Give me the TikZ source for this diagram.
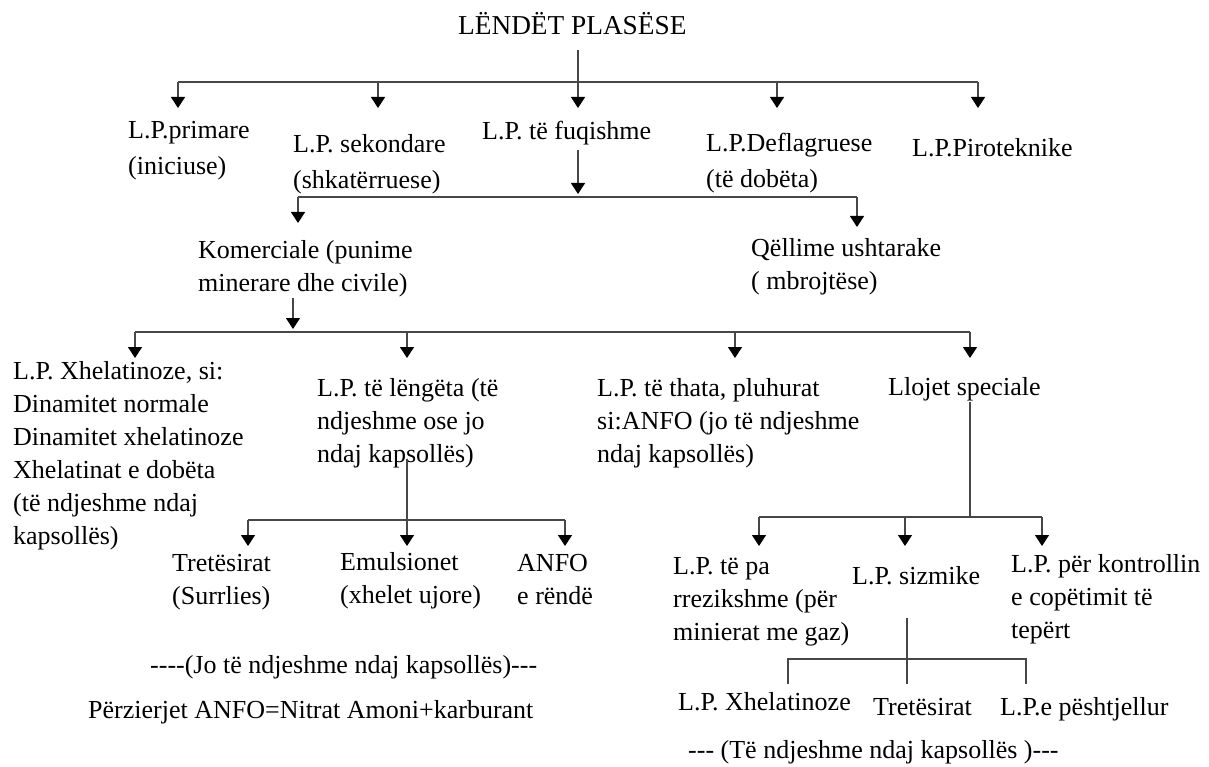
\documentclass[tikz,border=0pt]{standalone}
\usepackage{fontspec}
\setmainfont{Liberation Serif}
\usetikzlibrary{arrows.meta}
\newcommand\txfont{\fontsize{26}{33}\selectfont}
\newcommand\txwide{\fontsize{26}{36}\selectfont}
\newcommand\txtitle{\fontsize{27.3}{33}\selectfont}
\tikzset{
  txt/.style={anchor=north west, inner sep=0pt, align=left, font=\txfont, execute at begin node=\strut},
  txtw/.style={txt, font=\txwide},
  ln/.style={draw=black!72, line width=1.3pt},
  arr/.style={ln, -{Triangle[width=14pt,length=11pt,color=black]}}
}
\begin{document}
\begin{tikzpicture}[x=1pt,y=-1pt]
\useasboundingbox (0,0) rectangle (1209,767);
% texts
\node[txt, font=\txtitle] (title) at (458,11) {LËNDËT PLASËSE};
\node[txtw] (prim) at (128,121) {L.P.primare\\(iniciuse)};
\node[txtw] (sek) at (293,134) {L.P. sekondare\\(shkatërruese)};
\node[txt] (fuq) at (482,116) {L.P. të fuqishme};
\node[txtw] (defl) at (706,133) {L.P.Deflagruese\\(të dobëta)};
\node[txt] (piro) at (912,133) {L.P.Piroteknike};
\node[txt] (kom) at (198,240) {Komerciale (punime\\minerare dhe civile)};
\node[txt] (qel) at (751,238) {Qëllime ushtarake\\( mbrojtëse)};
\node[txt] (xhel) at (13,361) {L.P. Xhelatinoze, si:\\Dinamitet normale\\Dinamitet xhelatinoze\\Xhelatinat e dobëta\\(të ndjeshme ndaj\\kapsollës)};
\node[txt] (leng) at (317,378) {L.P. të lëngëta (të\\ndjeshme ose jo\\ndaj kapsollës)};
\node[txt] (thata) at (597,378) {L.P. të thata, pluhurat\\si:ANFO (jo të ndjeshme\\ndaj kapsollës)};
\node[txt] (lloj) at (888,372) {Llojet speciale};
\node[txt] (tret) at (172,554) {Tretësirat\\(Surrlies)};
\node[txt] (emul) at (340,552) {Emulsionet\\(xhelet ujore)};
\node[txt] (anfo) at (517,554) {ANFO\\e rëndë};
\node[txt] (jo) at (150,650) {-{}-{}-{}-(Jo të ndjeshme ndaj kapsollës)-{}-{}-};
\node[txt] (perz) at (88,695) {Përzierjet ANFO=Nitrat Amoni+karburant};
\node[txt] (tepa) at (673,557) {L.P. të pa\\rrezikshme (për\\minierat me gaz)};
\node[txt] (sizm) at (852,561) {L.P. sizmike};
\node[txt] (kontr) at (1011,554) {L.P. për kontrollin\\e copëtimit të\\tepërt};
\node[txt] (xhel2) at (678,687) {L.P. Xhelatinoze};
\node[txt] (tret2) at (873,692) {Tretësirat};
\node[txt] (pesh) at (1000,692) {L.P.e pështjellur};
\node[txt] (te) at (688,735) {-{}-{}- (Të ndjeshme ndaj kapsollës )-{}-{}-};
% junction coordinates
\coordinate (ts) at (578,50);   \coordinate (tfuq) at (578,108);
\coordinate (b1L) at (178,82);  \coordinate (b1R) at (978,82);
\coordinate (b1a) at (378,82);  \coordinate (b1b) at (777,82);
\coordinate (tprim) at (178,108); \coordinate (tsek) at (378,108);
\coordinate (tdefl) at (777,108); \coordinate (tpiro) at (978,108);
\coordinate (fs) at (578,150);  \coordinate (tb2) at (578,194);
\coordinate (b2L) at (298,197); \coordinate (b2R) at (857,197);
\coordinate (tkom) at (298,223); \coordinate (tqel) at (857,227);
\coordinate (ks) at (293,298);  \coordinate (tb3) at (293,329);
\coordinate (b3L) at (135,332); \coordinate (b3R) at (970,332);
\coordinate (b3a) at (407,332); \coordinate (b3b) at (735,332);
\coordinate (txhel) at (135,358); \coordinate (tleng) at (407,358);
\coordinate (tthata) at (735,358); \coordinate (tlloj) at (970,358);
\coordinate (ls) at (407,459);  \coordinate (temul) at (407,546);
\coordinate (b4L) at (248,520); \coordinate (b4R) at (565,520);
\coordinate (ttret) at (248,546); \coordinate (tanfo) at (565,546);
\coordinate (lls) at (970,402); \coordinate (b5M) at (970,517);
\coordinate (b5L) at (759,517); \coordinate (b5R) at (1042,517);
\coordinate (b5a) at (905,517);
\coordinate (ttepa) at (759,546); \coordinate (tsizm) at (905,546); \coordinate (tkontr) at (1042,546);
\coordinate (ss) at (907,618);  \coordinate (ssb) at (907,684);
\coordinate (b6L) at (788,659); \coordinate (b6R) at (1026,659); \coordinate (b6M) at (907,659);
\coordinate (e6L) at (788,684); \coordinate (e6R) at (1026,684);
% connectors
\draw[arr] (ts) -- (tfuq);
\draw[ln] (b1L) -- (b1R);
\draw[arr] (b1L) -- (tprim);
\draw[arr] (b1a) -- (tsek);
\draw[arr] (b1b) -- (tdefl);
\draw[arr] (b1R) -- (tpiro);
\draw[arr] (fs) -- (tb2);
\draw[ln] (b2L) -- (b2R);
\draw[arr] (b2L) -- (tkom);
\draw[arr] (b2R) -- (tqel);
\draw[arr] (ks) -- (tb3);
\draw[ln] (b3L) -- (b3R);
\draw[arr] (b3L) -- (txhel);
\draw[arr] (b3a) -- (tleng);
\draw[arr] (b3b) -- (tthata);
\draw[arr] (b3R) -- (tlloj);
\draw[arr] (ls) -- (temul);
\draw[ln] (b4L) -- (b4R);
\draw[arr] (b4L) -- (ttret);
\draw[arr] (b4R) -- (tanfo);
\draw[ln] (lls) -- (b5M);
\draw[ln] (b5L) -- (b5R);
\draw[arr] (b5L) -- (ttepa);
\draw[arr] (b5a) -- (tsizm);
\draw[arr] (b5R) -- (tkontr);
\draw[ln] (ss) -- (ssb);
\draw[ln] (e6L) -- (b6L) -- (b6R) -- (e6R);
\end{tikzpicture}
\end{document}
